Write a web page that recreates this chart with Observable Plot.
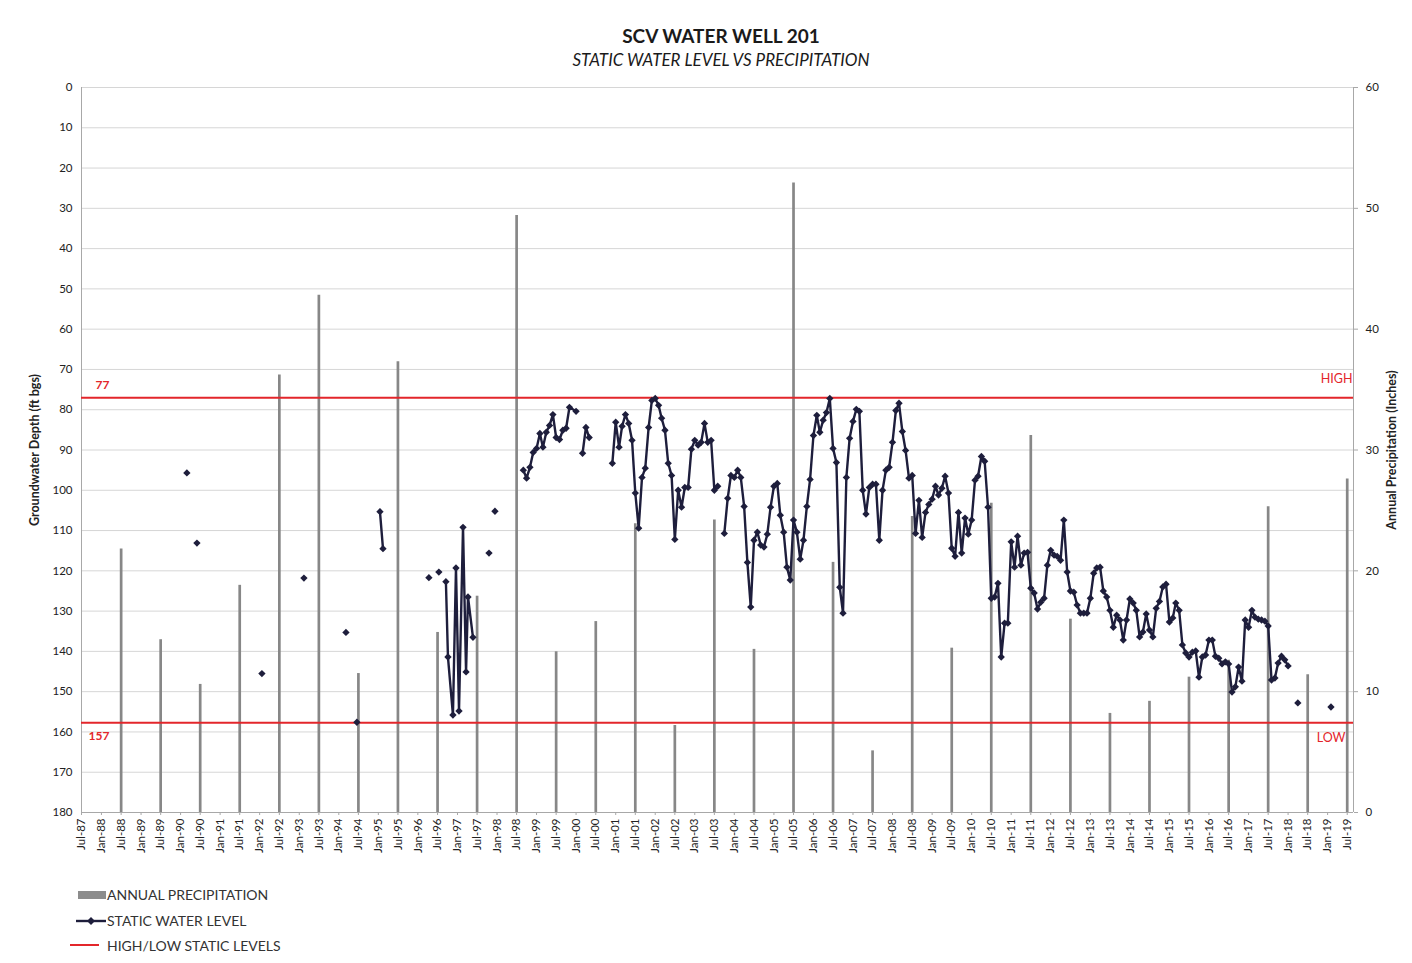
<!DOCTYPE html>
<html><head><meta charset="utf-8">
<script src="https://cdn.jsdelivr.net/npm/d3@7"></script>
<script src="https://cdn.jsdelivr.net/npm/@observablehq/plot@0.6"></script>
<style>
body{margin:0;background:#fff;}
#page{position:relative;width:1412px;height:963px;font-family:Lato,"Open Sans",sans-serif;color:#222;overflow:hidden;background:#fff}
#title{position:absolute;left:0;top:24px;width:1442px;text-align:center;font-weight:bold;font-size:19px;color:#1a1a1a}
#subtitle{position:absolute;left:0;top:49px;width:1442px;text-align:center;font-style:italic;font-size:17px;color:#1a1a1a}
#chart{position:absolute;left:0;top:70px;width:1412px;height:802px}
.leg{position:absolute;left:107px;font-size:14px;color:#333;line-height:16px}
.sw{position:absolute}
svg [aria-label="y-axis label"] text{font-weight:bold;font-size:12.5px;fill:#222}
</style>
</head><body>
<div id="page">
  <div id="title">SCV WATER WELL 201</div>
  <div id="subtitle">STATIC WATER LEVEL VS PRECIPITATION</div>
  <div id="chart"></div>
  <svg class="sw" style="left:76px;top:890px" width="32" height="10"><rect x="2" y="1" width="28" height="8" fill="#8c8c8c"/></svg>
  <div class="leg" style="top:887px">ANNUAL PRECIPITATION</div>
  <svg class="sw" style="left:74px;top:914px" width="34" height="14"><line x1="2" y1="7" x2="32" y2="7" stroke="#1e1e3c" stroke-width="2.4"/><path d="M17 3 L21 7 L17 11 L13 7 Z" fill="#1e1e3c"/></svg>
  <div class="leg" style="top:913px">STATIC WATER LEVEL</div>
  <svg class="sw" style="left:68px;top:940px" width="34" height="10"><line x1="2" y1="5" x2="31" y2="5" stroke="#e3262b" stroke-width="2"/></svg>
  <div class="leg" style="top:938px">HIGH/LOW STATIC LEVELS</div>
</div>
<script>
// ---------- DATA ----------
// Annual precipitation (inches), plotted at July of each year
const precipDate = ["1988-07-01","1989-07-01","1990-07-01","1991-07-01","1992-07-01","1993-07-01","1994-07-01","1995-07-01",
  "1996-07-01","1997-07-01","1998-07-01","1999-07-01","2000-07-01","2001-07-01","2002-07-01","2003-07-01",
  "2004-07-01","2005-07-01","2006-07-01","2007-07-01","2008-07-01","2009-07-01","2010-07-01","2011-07-01",
  "2012-07-01","2013-07-01","2014-07-01","2015-07-01","2016-07-01","2017-07-01","2018-07-01","2019-07-01"];
const precipInches = [21.8,14.3,10.6,18.8,36.2,42.8,11.5,37.3,
  14.9,17.9,49.4,13.3,15.8,23.9,7.2,24.2,
  13.5,52.1,20.7,5.1,24.5,13.6,25.6,31.2,
  16.0,8.2,9.2,11.2,12.6,25.3,11.4,27.6];

// Irregular static water level readings (ft bgs); null marks a break in the line
const sparseDate = [
  "1990-02-28", null, "1990-06-01", null, "1992-01-22", null, "1993-02-13", null,
  "1994-03-08", null, "1994-06-17", null, "1995-01-16", "1995-02-13", null,
  "1996-04-12", null, "1996-07-13", null,
  "1996-09-16","1996-10-05","1996-11-20","1996-12-18","1997-01-15","1997-02-21","1997-03-21","1997-04-08","1997-05-24", null,
  "1997-10-19", null, "1997-12-13", null,
  "1998-09-01","1998-10-01","1998-11-01","1998-12-01","1999-01-01","1999-02-01","1999-03-01","1999-04-01",
  "1999-05-01","1999-06-01","1999-07-01","1999-08-01","1999-09-01","1999-10-01","1999-11-01","2000-01-01", null,
  "2000-03-01","2000-04-01","2000-05-01", null,
  "2018-04-01", null, "2019-02-01"];
const sparseFt = [
  95.7, null, 113.1, null, 145.5, null, 121.8, null,
  135.3, null, 157.6, null, 105.3, 114.5, null,
  121.7, null, 120.3, null,
  122.7,141.4,155.8,119.3,154.8,109.2,145.1,126.5,136.5, null,
  115.6, null, 105.2, null,
  95.0,97.0,94.3,90.6,89.6,85.9,89.3,85.6,
  83.9,81.2,86.9,87.4,85.1,84.6,79.4,80.4, null,
  90.8,84.4,86.9, null,
  152.8, null, 153.8];

// Monthly static water level runs: first month and consecutive monthly readings (ft bgs)
const run2001Start = "2000-12-01";
const run2001Ft = [93.3,
  83.1,89.3,84.1,81.2,83.4,87.6,100.7,109.4,96.8,94.5,84.4,77.7,
  77.2,78.9,82.1,85.1,93.3,96.3,112.2,100.0,104.2,99.3,99.3,89.8,
  87.6,88.8,88.1,83.4,88.1,87.6,100.0,99.0];
const run2004Start = "2003-10-01";
const run2004Ft = [110.7,102.0,96.3,
  96.8,95.0,96.8,104.0,117.9,129.0,112.4,110.4,113.6,114.1,110.9,104.2,
  99.0,98.3,106.2,110.4,119.1,122.3,107.4,110.4,117.1,112.4,104.0,97.3,
  86.4,81.4,85.6,82.6,80.7,77.2,89.6,93.1,124.1,130.5,96.8,87.1,
  82.9,79.9,80.4,100.0,105.9,99.3,98.5,98.5,112.4,100.0,95.0,94.3,
  88.1,80.2,78.4,85.4,90.1,97.0,96.3,110.7,102.5,111.7,105.5,103.5,
  102.2,99.0,101.2,99.5,96.5,100.7,114.4,116.4,105.5,115.6,106.9,110.9,
  107.4,97.5,96.5,91.6,92.8,104.2,126.8,126.5,123.1,141.4,133.0,133.0,
  112.8,119.1,111.4,118.6,115.6,115.4,124.3,125.5,129.5,127.8,126.8,118.6,
  114.9,116.1,116.4,117.4,107.4,120.3,125.0,125.3,128.5,130.5,130.5,130.5,
  126.8,120.6,119.3,119.1,125.0,126.5,129.8,134.0,131.0,132.2,137.2,132.2,
  127.0,128.0,129.8,136.4,135.2,130.7,134.7,136.4,129.3,127.6,124.0,123.3,
  132.7,131.7,128.0,129.8,138.4,140.4,141.4,140.2,139.9,146.4,141.4,140.9,
  137.2,137.2,141.2,141.7,143.1,142.6,143.1,150.1,148.8,143.9,147.4,132.2,
  134.0,129.8,131.5,132.0,132.2,132.5,133.7,147.1,146.6,142.9,141.2,142.1,
  143.6];

const highLowFt = [77, 157.7];
const highLowLabel = ["77", "157"];
const highLowName = ["HIGH", "LOW"];
const depthTicks = [0,10,20,30,40,50,60,70,80,90,100,110,120,130,140,150,160,170,180];
const precipTicks = [0,10,20,30,40,50,60];
const xDomain = [new Date("1987-07-01"), new Date("2019-08-28")];

// ---------- BUILD ROWS ----------
const precipRows = precipDate.map((d, i) => ({date: new Date(d), inches: precipInches[i]}));
function runRows(start, vals) {
  const s = new Date(start);
  return vals.map((v, i) => ({date: d3.utcMonth.offset(s, i), ft: v}));
}
const sparseRows = sparseDate.map((d, i) => ({date: d ? new Date(d) : null, ft: sparseFt[i]}));
const levelRows = [
  ...sparseRows.slice(0, sparseRows.length - 3),
  ...runRows(run2001Start, run2001Ft), {date: null, ft: null},
  ...runRows(run2004Start, run2004Ft), {date: null, ft: null},
  ...sparseRows.slice(sparseRows.length - 3)
];
const levelDots = levelRows.filter(r => r.date && r.ft != null);

const navy = "#1e1e3c", red = "#e3262b";
const common = {
  width: 1412, height: 802,
  marginTop: 17, marginRight: 59, marginBottom: 60, marginLeft: 81,
  style: {position: "absolute", left: "0px", top: "0px", background: "transparent",
          fontFamily: "Lato, 'Open Sans', sans-serif", fontSize: "11.5px", color: "#222", overflow: "visible"}
};

// Layer 1: gridlines and frame
const grid = Plot.plot({
  ...common,
  x: {type: "utc", domain: xDomain, axis: null},
  y: {domain: [0, 180], reverse: true, axis: null},
  marks: [
    Plot.ruleY(depthTicks, {stroke: "#d6d6d6", strokeWidth: 1}),
    Plot.ruleX(xDomain, {stroke: "#a8a8a8", strokeWidth: 1}),
    Plot.ruleY([180], {stroke: "#a8a8a8", strokeWidth: 1})
  ]
});

// Layer 2: precipitation bars (right axis)
const precip = Plot.plot({
  ...common,
  x: {type: "utc", domain: xDomain, axis: null},
  y: {domain: [0, 60]},
  marks: [
    Plot.ruleX(precipRows, {x: "date", y1: 0, y2: "inches", stroke: "#878787", strokeWidth: 2.7}),
    Plot.axisY({ticks: precipTicks, anchor: "right", tickSize: 4, tickPadding: 8, stroke: "#a8a8a8",
      label: "Annual Precipitation (Inches)", labelAnchor: "center", labelOffset: 42, labelArrow: "none"})
  ]
});

// Layer 3: water level, high/low lines, left and bottom axes
const level = Plot.plot({
  ...common,
  x: {type: "utc", domain: xDomain},
  y: {domain: [0, 180], reverse: true},
  marks: [
    Plot.axisY({ticks: depthTicks, anchor: "left", tickSize: 0, tickPadding: 9,
      label: "Groundwater Depth (ft bgs)", labelAnchor: "center", labelOffset: 51, labelArrow: "none"}),
    Plot.axisX({ticks: d3.utcMonth.every(6), tickFormat: d3.utcFormat("%b-%y"), tickRotate: -90,
      tickSize: 3, tickPadding: 3, stroke: "#a8a8a8", label: null}),
    Plot.ruleY(highLowFt, {stroke: red, strokeWidth: 2}),
    Plot.text(highLowFt, {y: d => d, text: (d, i) => highLowLabel[i], frameAnchor: "left", textAnchor: "start",
      fill: red, fontWeight: "bold", fontSize: 12}),
    Plot.line(levelRows, {x: "date", y: "ft", stroke: navy, strokeWidth: 2.4}),
    Plot.dot(levelDots, {x: "date", y: "ft", symbol: "diamond2", r: 3.3, fill: navy, stroke: null})
  ]
});

document.getElementById("chart").append(grid, precip, level);

// place high/low value labels relative to their lines (offsets only)
level.querySelectorAll('[aria-label="text"] text').forEach((t, i) => {
  t.setAttribute("dx", i === 0 ? 14 : 7);
  t.setAttribute("dy", i === 0 ? "-1.0em" : "1.1em");
});
// HIGH / LOW names at right end
const nameLayer = Plot.plot({
  ...common,
  x: {type: "utc", domain: xDomain, axis: null},
  y: {domain: [0, 180], reverse: true, axis: null},
  marks: [
    Plot.text(highLowFt, {y: d => d, text: (d, i) => highLowName[i], frameAnchor: "right", textAnchor: "end",
      fill: red, fontSize: 12.5, dx: -1})
  ]
});
nameLayer.querySelectorAll('[aria-label="text"] text').forEach((t, i) => {
  t.setAttribute("dy", i === 0 ? "-1.5em" : "1.2em");
  if (i === 1) t.setAttribute("dx", -7);
});
document.getElementById("chart").append(nameLayer);
</script>
</body></html>
